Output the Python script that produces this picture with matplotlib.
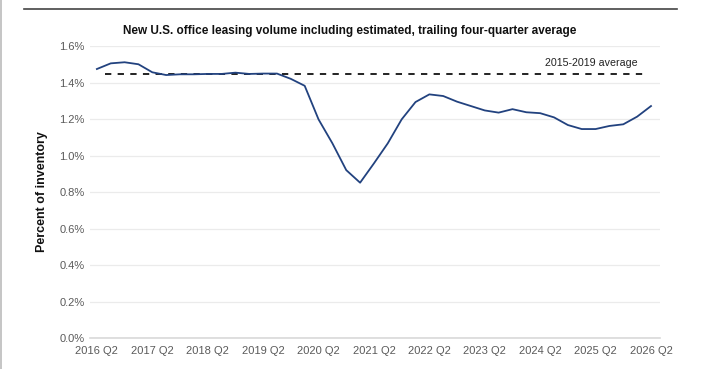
import matplotlib
matplotlib.use("Agg")
import matplotlib.pyplot as plt
from matplotlib.lines import Line2D

# quarters 2016 Q2 .. 2026 Q2
quarters = [f"{2016 + (i + 1) // 4} Q{(i + 1) % 4 + 1}" for i in range(41)]
leasing = [1.474, 1.505, 1.511, 1.500, 1.456, 1.441, 1.445, 1.445, 1.447, 1.447,
           1.454, 1.447, 1.449, 1.449, 1.420, 1.382, 1.198, 1.067, 0.920, 0.851,
           0.957, 1.067, 1.198, 1.293, 1.335, 1.326, 1.295, 1.271, 1.247, 1.235,
           1.254, 1.237, 1.232, 1.209, 1.167, 1.145, 1.145, 1.162, 1.171, 1.213,
           1.271]
avg_2015_2019 = 1.447
avg_label = "2015-2019 average"
title = "New U.S. office leasing volume including estimated, trailing four-quarter average"
y_ticks = [0.0, 0.2, 0.4, 0.6, 0.8, 1.0, 1.2, 1.4, 1.6]


def main():
    plt.rcParams["font.family"] = ["Liberation Sans", "DejaVu Sans"]
    fig = plt.figure(figsize=(7.04, 3.69), dpi=100)
    ax = fig.add_axes([0.1278, 0.084, 0.8097, 0.7913])

    x = list(range(len(leasing)))
    ax.plot(x, leasing, color="#22427f", lw=1.3, zorder=3)
    ax.plot([x[0] + 0.6, x[-1] - 0.3], [avg_2015_2019] * 2, color="#111111",
            lw=1.3, ls=(0, (3.5, 3.5)), zorder=2)
    ax.text(39.0, avg_2015_2019 + 0.035, avg_label, ha="right", va="bottom",
            fontsize=7.7, color="#222222")

    ax.set_xlim(-0.5, 40.65)
    ax.set_ylim(0, 1.6)
    ax.set_yticks(y_ticks)
    ax.set_yticklabels([f"{v:.1f}%" for v in y_ticks])
    ax.set_xticks(x[::4])
    ax.set_xticklabels(quarters[::4])
    ax.tick_params(length=0, labelsize=8, colors="#5a5a5a", pad=4)
    ax.tick_params(axis="x", pad=6)
    ax.grid(axis="y", color="#ebebeb", lw=0.9)
    ax.set_axisbelow(True)
    for s in ["top", "right", "left"]:
        ax.spines[s].set_visible(False)
    ax.spines["bottom"].set_color("#d9d9d9")
    ax.spines["bottom"].set_linewidth(1.2)

    ax.set_ylabel("Percent of inventory", fontsize=9, fontweight="bold",
                  color="#111111", labelpad=8)
    fig.text(0.497, 0.915, title, ha="center", va="center", fontsize=8.5,
             fontweight="bold", color="#111111")

    # frame lines of the original screenshot
    fig.add_artist(Line2D([0.034, 0.962], [0.976, 0.976], color="#444444",
                          lw=1.2, transform=fig.transFigure))
    fig.add_artist(Line2D([0.002, 0.002], [0, 1], color="#bbbbbb",
                          lw=1.2, transform=fig.transFigure))

    fig.savefig("out.png", dpi=100)


if __name__ == "__main__":
    main()
